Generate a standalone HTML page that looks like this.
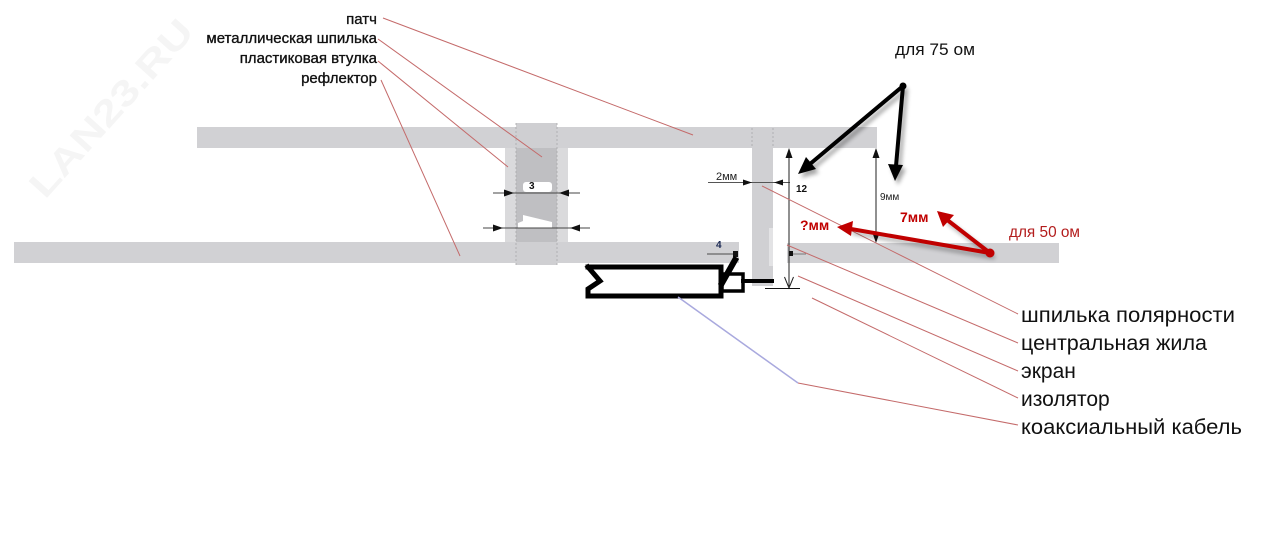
<!DOCTYPE html>
<html>
<head>
<meta charset="utf-8">
<style>
html,body{margin:0;padding:0;background:#fff;}
svg{display:block;}
text{font-family:"Liberation Sans","Noto Sans CJK SC",sans-serif;}
</style>
</head>
<body>
<svg width="1280" height="556" viewBox="0 0 1280 556" xmlns="http://www.w3.org/2000/svg">
<defs>
  <filter id="sh" x="-20%" y="-20%" width="140%" height="140%">
    <feGaussianBlur stdDeviation="2"/>
  </filter>
</defs>
<rect x="0" y="0" width="1280" height="556" fill="#ffffff"/>

<!-- watermark -->
<text x="0" y="0" transform="translate(45,200) rotate(-48)" font-size="36" font-weight="bold" fill="#f5f5f5" textLength="225" lengthAdjust="spacingAndGlyphs">LAN23.RU</text>

<!-- top bar (patch) -->
<rect x="197" y="127" width="680" height="21" fill="#d1d1d4"/>
<!-- bottom bar (reflector) -->
<rect x="14" y="242" width="725" height="21" fill="#d1d1d4"/>
<rect x="787" y="243" width="272" height="20" fill="#d1d1d4"/>

<!-- bushing + pin block -->
<rect x="505" y="148" width="63" height="94" fill="#dadadc"/>
<rect x="516" y="148" width="41" height="94" fill="#bfbfc2"/>
<rect x="516" y="123" width="41" height="25" fill="#cfcfd2"/>
<rect x="516" y="242" width="41" height="23" fill="#cfcfd2"/>
<line x1="516" y1="123" x2="516" y2="265" stroke="#a8a8ab" stroke-width="0.8" stroke-dasharray="2,2"/>
<line x1="557" y1="123" x2="557" y2="265" stroke="#a8a8ab" stroke-width="0.8" stroke-dasharray="2,2"/>

<!-- dimension "3" -->
<rect x="523" y="182" width="29" height="10" rx="3" fill="#ffffff"/>
<text x="529" y="189" font-size="10" font-weight="bold" fill="#111">3</text>
<line x1="493" y1="193" x2="580" y2="193" stroke="#444" stroke-width="1"/>
<polygon points="514,193 504,189.5 504,196.5" fill="#111"/>
<polygon points="559,193 569,189.5 569,196.5" fill="#111"/>
<!-- dimension 2 -->
<polygon points="523,215 552,222 552,228 518,228 518,223 523,221" fill="#ffffff"/>
<line x1="483" y1="228" x2="590" y2="228" stroke="#444" stroke-width="1"/>
<polygon points="503,228 493,224.5 493,231.5" fill="#111"/>
<polygon points="570,228 580,224.5 580,231.5" fill="#111"/>

<!-- vertical polarity strip -->
<rect x="752" y="128" width="21" height="158" fill="#d0d0d3"/>
<rect x="769" y="228" width="4" height="38" fill="#e3e3e5"/>
<line x1="752" y1="128" x2="752" y2="148" stroke="#a8a8ab" stroke-width="0.8" stroke-dasharray="2,2"/>
<line x1="773" y1="128" x2="773" y2="148" stroke="#a8a8ab" stroke-width="0.8" stroke-dasharray="2,2"/>

<!-- 2мм dimension -->
<text x="716" y="180" font-size="11" fill="#222">2мм</text>
<line x1="708" y1="182.5" x2="790" y2="182.5" stroke="#555" stroke-width="1"/>
<polygon points="752,182.5 743,179.5 743,185.5" fill="#111"/>
<polygon points="774,182.5 783,179.5 783,185.5" fill="#111"/>

<!-- 12 dimension -->
<line x1="789" y1="150" x2="789" y2="286" stroke="#222" stroke-width="1"/>
<polygon points="789,148 785.5,158 792.5,158" fill="#111"/>
<polyline points="784.5,277 789,288 793.5,277" fill="none" stroke="#222" stroke-width="1"/>
<line x1="765" y1="288.5" x2="800" y2="288.5" stroke="#111" stroke-width="1"/>
<text x="796" y="192" font-size="10" font-weight="bold" fill="#111">12</text>

<!-- small arrow near 790,253 -->
<line x1="790" y1="254" x2="806" y2="254" stroke="#777" stroke-width="1"/>
<rect x="789" y="251" width="4" height="5" fill="#111"/>

<!-- 4 dimension -->
<text x="716" y="248" font-size="10" font-weight="bold" fill="#1d2b55">4</text>
<line x1="707" y1="254" x2="734" y2="254" stroke="#666" stroke-width="1.2"/>
<rect x="733" y="251" width="5" height="6" fill="#111"/>

<!-- 9мм dimension -->
<line x1="876" y1="150" x2="876" y2="241" stroke="#222" stroke-width="1"/>
<polygon points="876,148 872.5,158 879.5,158" fill="#111"/>
<polygon points="876,243 872.5,233 879.5,233" fill="#111"/>
<text x="880" y="200" font-size="10" fill="#222">9мм</text>

<!-- coax cable -->
<g stroke="#000" fill="none" stroke-linecap="square" stroke-linejoin="miter">
  <polyline points="588,267 721,267 721,296 588,296" stroke-width="5"/>
  <polyline points="588,267 600,281 588,289 588,296" stroke-width="5"/>
  <rect x="722" y="274" width="21" height="17" stroke-width="3.5"/>
  <line x1="722" y1="283" x2="735" y2="260" stroke-width="6"/>
  <line x1="743" y1="281" x2="772" y2="281" stroke-width="4"/>
</g>

<!-- leader lines -->
<g stroke="#c46a6a" stroke-width="1" fill="none">
  <line x1="383" y1="18" x2="693" y2="135"/>
  <line x1="378" y1="39" x2="542" y2="157"/>
  <line x1="378" y1="61" x2="508" y2="167"/>
  <line x1="381" y1="80" x2="460" y2="256"/>
  <line x1="762" y1="186" x2="1018" y2="314"/>
  <line x1="787" y1="245" x2="1018" y2="343"/>
  <line x1="798" y1="276" x2="1018" y2="371"/>
  <line x1="812" y1="298" x2="1018" y2="398"/>
  <line x1="798" y1="383" x2="1018" y2="425"/>
</g>
<line x1="678" y1="297" x2="798" y2="383" stroke="#a9a9de" stroke-width="1.5"/>

<!-- left labels -->
<g font-size="15" fill="#111" stroke="#111" stroke-width="0.35" text-anchor="end">
  <text x="377" y="24">патч</text>
  <text x="377" y="43">металлическая шпилька</text>
  <text x="377" y="63">пластиковая втулка</text>
  <text x="377" y="83">рефлектор</text>
</g>

<!-- right labels -->
<g font-size="21" fill="#111">
  <text x="1021" y="322" textLength="214" lengthAdjust="spacingAndGlyphs">шпилька полярности</text>
  <text x="1021" y="350" textLength="186" lengthAdjust="spacingAndGlyphs">центральная жила</text>
  <text x="1021" y="378">экран</text>
  <text x="1021" y="406">изолятор</text>
  <text x="1021" y="434" textLength="221" lengthAdjust="spacingAndGlyphs">коаксиальный кабель</text>
</g>

<!-- black arrows (75 ohm) -->
<text x="895" y="55" font-size="17" fill="#111" textLength="80" lengthAdjust="spacingAndGlyphs">для 75 ом</text>
<g filter="url(#sh)" opacity="0.35" transform="translate(3,4)">
  <g stroke="#000" stroke-width="4" stroke-linecap="round">
    <line x1="903" y1="86" x2="810" y2="164"/>
    <line x1="903" y1="86" x2="896" y2="166"/>
  </g>
  <polygon points="798,174 806,157 816,169" fill="#000"/>
  <polygon points="895,181 888,164 903,165" fill="#000"/>
</g>
<g stroke="#000" stroke-width="4" stroke-linecap="round">
  <line x1="903" y1="86" x2="810" y2="164"/>
  <line x1="903" y1="86" x2="896" y2="166"/>
</g>
<circle cx="903" cy="86" r="3.5" fill="#000"/>
<polygon points="798,174 806,157 816,169" fill="#000"/>
<polygon points="895,181 888,164 903,165" fill="#000"/>

<!-- red arrows (50 ohm) -->
<text x="1009" y="237" font-size="16" fill="#b31c1c" textLength="71" lengthAdjust="spacingAndGlyphs">для 50 ом</text>
<g filter="url(#sh)" opacity="0.3" transform="translate(3,4)">
  <g stroke="#000" stroke-width="4" stroke-linecap="round">
    <line x1="990" y1="253" x2="851" y2="229"/>
    <line x1="990" y1="253" x2="946" y2="219"/>
  </g>
</g>
<g stroke="#c00000" stroke-width="4" stroke-linecap="round">
  <line x1="990" y1="253" x2="851" y2="229"/>
  <line x1="990" y1="253" x2="946" y2="219"/>
</g>
<circle cx="990" cy="253" r="4.5" fill="#c00000"/>
<polygon points="837,227 853,221 851,236" fill="#c00000"/>
<polygon points="937,211 954,215 943,227" fill="#c00000"/>
<text x="900" y="222" font-size="14" font-weight="bold" fill="#c00000">7мм</text>
<text x="800" y="230" font-size="14" font-weight="bold" fill="#c00000">?мм</text>
</svg>
</body>
</html>
